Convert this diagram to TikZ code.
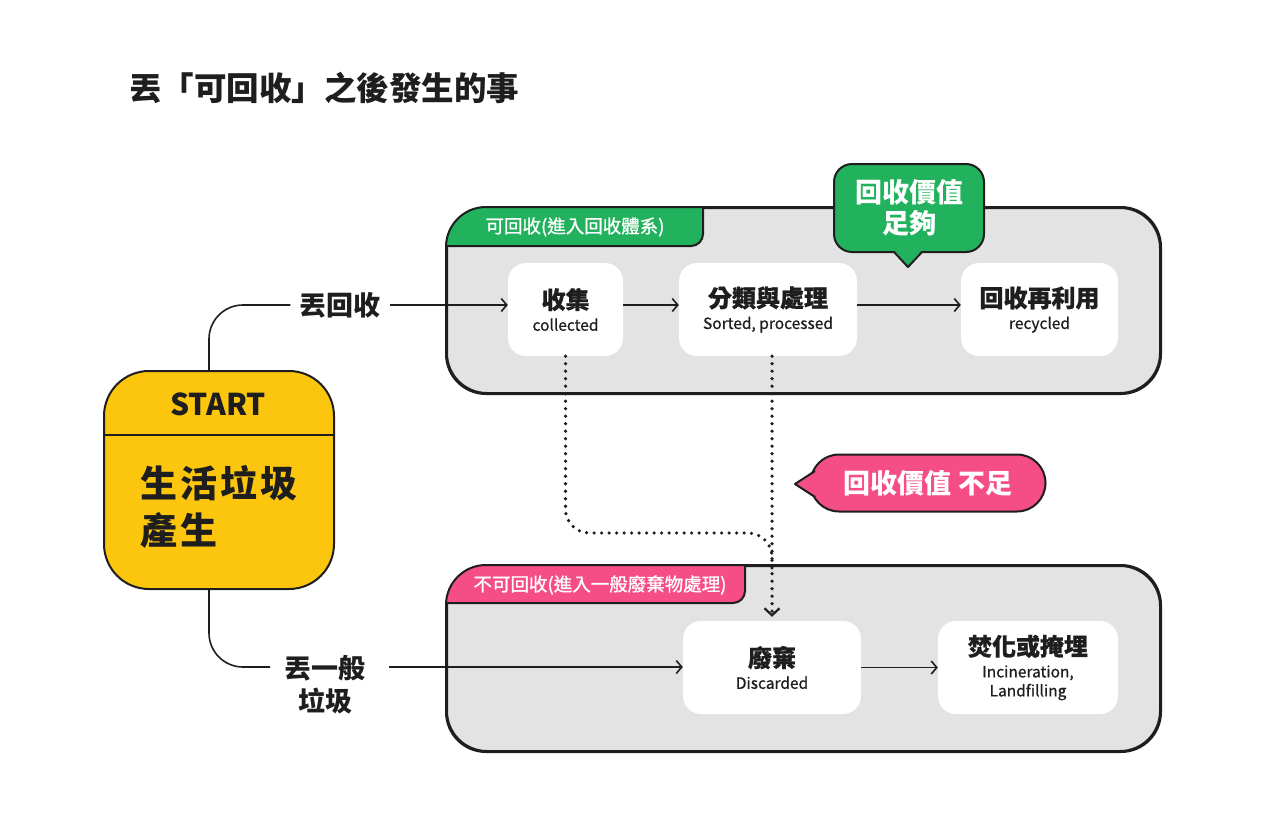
\documentclass[tikz,border=0pt]{standalone}
\usepackage{fontspec}
\setmainfont{Noto Sans CJK TC}
\usetikzlibrary{arrows.meta}
\definecolor{ink}{HTML}{1E1E1E}
\definecolor{ygold}{HTML}{FDC60E}
\definecolor{rgreen}{HTML}{22B15C}
\definecolor{rpink}{HTML}{F54E86}
\definecolor{panel}{HTML}{E3E3E3}
\newcommand\cardmain[1]{{\fontsize{24}{22}\selectfont\bfseries #1}}
\begin{document}
\begin{tikzpicture}[x=1pt,y=-1pt,
  panelbox/.style={draw=ink, line width=2pt, fill=panel, rounded corners=40pt, minimum width=713pt, minimum height=185pt, inner sep=0pt},
  card/.style={fill=white, rounded corners=18pt, minimum height=93pt, inner sep=0pt, align=center, text=ink, font=\fontsize{15.5}{22}\selectfont\addfontfeature{FakeBold=0.7}},
  flow/.style={draw=ink, line width=1.6pt, -{Straight Barb[length=5.5pt,width=13pt,line width=1.6pt]}},
  dotline/.style={draw=ink, line width=3.6pt, dash pattern=on 0pt off 7.5pt, line cap=round},
  lbl/.style={font=\fontsize{27}{33}\selectfont\bfseries, text=ink, align=center, inner sep=9pt},
  tabtext/.style={font=\fontsize{18.5}{20}\selectfont\addfontfeature{FakeBold=1}, text=white, inner sep=0pt},
  bubble/.style={draw=ink, line width=2pt, text=white, align=center, inner sep=0pt, font=\fontsize{27}{31}\selectfont\bfseries},
  conn/.style={draw=ink, line width=1.6pt, rounded corners=34pt}
]
\useasboundingbox[fill=white] (0,0) rectangle (1280,822);

% title
\node[anchor=west, font=\fontsize{32.5}{38}\selectfont\bfseries, text=ink, inner sep=0pt] (title) at (129,88) {丟「可回收」之後發生的事};

% panels
\node[panelbox] (top) at (803.5,300.5) {};
\node[panelbox] (bot) at (803.5,658.5) {};
\begin{scope}
  \clip[rounded corners=40pt] (top.north west) rectangle (top.south east);
  \fill[rgreen, rounded corners=12pt] (430,190) rectangle (703,246);
  \draw[ink, line width=2pt, rounded corners=12pt] (703,190) -- (703,246) -- (430,246);
\end{scope}
\begin{scope}
  \clip[rounded corners=40pt] (bot.north west) rectangle (bot.south east);
  \fill[rpink, rounded corners=12pt] (430,548) rectangle (745,603);
  \draw[ink, line width=2pt, rounded corners=12pt] (745,548) -- (745,603) -- (430,603);
\end{scope}
\draw[ink, line width=2pt, rounded corners=40pt] (top.north west) rectangle (top.south east);
\draw[ink, line width=2pt, rounded corners=40pt] (bot.north west) rectangle (bot.south east);
\node[tabtext] (tabA) at (575,227) {可回收(進入回收體系)};
\node[tabtext] (tabB) at (600,585) {不可回收(進入一般廢棄物處理)};

% cards
\node[card, minimum width=115pt] (collect) at (565.5,309.5) {\cardmain{收集}\\collected};
\node[card, minimum width=178pt] (sort) at (768,309.5) {\cardmain{分類與處理}\\Sorted, processed};
\node[card, minimum width=157pt] (reuse) at (1039.5,309.5) {\cardmain{回收再利用}\\recycled};
\node[card, minimum width=178pt] (discard) at (772,667.5) {\cardmain{廢棄}\\Discarded};
\node[card, minimum width=180pt, font=\fontsize{15.5}{19}\selectfont\addfontfeature{FakeBold=0.7}] (burn) at (1028,667.5) {\cardmain{焚化或掩埋}\\[3pt]Incineration,\\Landfilling};

% start
\node[draw=ink, line width=2pt, fill=ygold, rounded corners=45pt, minimum width=230pt, minimum height=218pt, inner sep=0pt] (start) at (219,480) {};
\draw[ink, line width=2pt] (start.west |- 0,435) -- (start.east |- 0,435);
\node[font=\fontsize{30}{34}\selectfont\bfseries, text=ink] (startlbl) at (218,404) {START};
\node[anchor=west, align=left, text=ink, inner sep=0pt, font=\fontsize{37}{47}\selectfont\bfseries\addfontfeature{LetterSpace=8}] (life) at (140,507) {生活垃圾\\產生};

% labels
\node[lbl] (lblA) at (340,305) {丟回收};
\node[lbl] (lblB) at (325,685) {丟一般\\垃圾};
\coordinate (bIn) at (270,667);
\coordinate (bOut) at (389,667);

% connectors
\draw[conn] ([xshift=-10pt]start.north) |- (lblA.west);
\draw[conn] ([xshift=-10pt]start.south) |- (bIn);
\draw[flow] (lblA.east) -- (lblA.east -| collect.west);
\draw[flow] ([yshift=4.5pt]collect.east) -- ([yshift=4.5pt]sort.west);
\draw[flow] ([yshift=4.5pt]sort.east) -- ([yshift=4.5pt]reuse.west);
\draw[flow] (bOut) -- (bOut -| discard.west);
\draw[flow] (discard.east) -- (burn.west);

% dotted
\coordinate (merge) at (772,533);
\draw[dotline, rounded corners=24pt] (collect.south) |- (merge) -- (772,570);
\draw[dotline, -{Straight Barb[length=7pt,width=15pt,line width=2.2pt]}] (discard.north |- sort.south) -- ([yshift=4pt]discard.north);

% green bubble
\node[bubble, fill=rgreen, rounded corners=18pt, minimum width=150pt, minimum height=88pt] (enough) at (909,208) {回收價值\\足夠};
\fill[rgreen] (893,249) -- (908,266) -- (923,249) -- cycle;
\draw[ink, line width=2pt, line join=round] (894,252) -- (908,267) -- (922,252);

% pink bubble
\node[bubble, fill=rpink, rounded corners=28.5pt, minimum width=235pt, minimum height=57pt] (short) at (928,483) {回收價值 不足};
\fill[rpink] (820,469) -- (796,484) -- (820,499) -- cycle;
\draw[ink, line width=2pt, line join=round] (815,471) -- (795,484) -- (815,497);
\end{tikzpicture}
\end{document}
